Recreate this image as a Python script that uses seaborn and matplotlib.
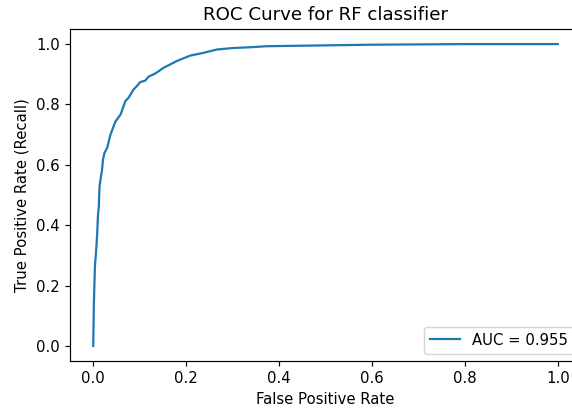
import numpy as np
import pandas as pd
import seaborn as sns
import matplotlib
matplotlib.use("Agg")
import matplotlib.pyplot as plt

# ROC points
fpr = [0.0, 0.0014, 0.0036, 0.0064, 0.0086, 0.010, 0.012, 0.0136, 0.0157,
       0.019, 0.021, 0.024, 0.030, 0.037, 0.048, 0.059, 0.069, 0.076, 0.087,
       0.094, 0.101, 0.112, 0.119, 0.134, 0.151, 0.180, 0.209, 0.237, 0.266,
       0.301, 0.344, 0.373, 0.466, 0.553, 0.60, 0.70, 0.80, 0.90, 1.0]
tpr = [0.0, 0.142, 0.263, 0.319, 0.374, 0.429, 0.462, 0.529, 0.551,
       0.584, 0.617, 0.639, 0.656, 0.700, 0.744, 0.767, 0.811, 0.822, 0.850,
       0.861, 0.874, 0.879, 0.892, 0.903, 0.921, 0.944, 0.962, 0.971, 0.982,
       0.987, 0.990, 0.993, 0.995, 0.997, 0.998, 0.999, 1.0, 1.0, 1.0]
auc_label = "AUC = 0.955"

df = pd.DataFrame({"fpr": fpr, "tpr": tpr})

# slightly higher dpi so text comes out a bit larger, like the original
dpi = 107
fig = plt.figure(figsize=(572 / dpi, 408 / dpi), dpi=dpi)
# original image was cropped, so the right spine falls just outside
ax = fig.add_axes([0.1224, 0.1152, 0.8933, 0.8137])

sns.lineplot(data=df, x="fpr", y="tpr", ax=ax, color="#1f77b4",
             estimator=None, label=auc_label)

ax.set_title("ROC Curve for RF classifier", size=12.3)
ax.set_xlabel("False Positive Rate")
ax.set_ylabel("True Positive Rate (Recall)")
ax.legend(loc="lower right")

plt.savefig("out.png", dpi=dpi)
